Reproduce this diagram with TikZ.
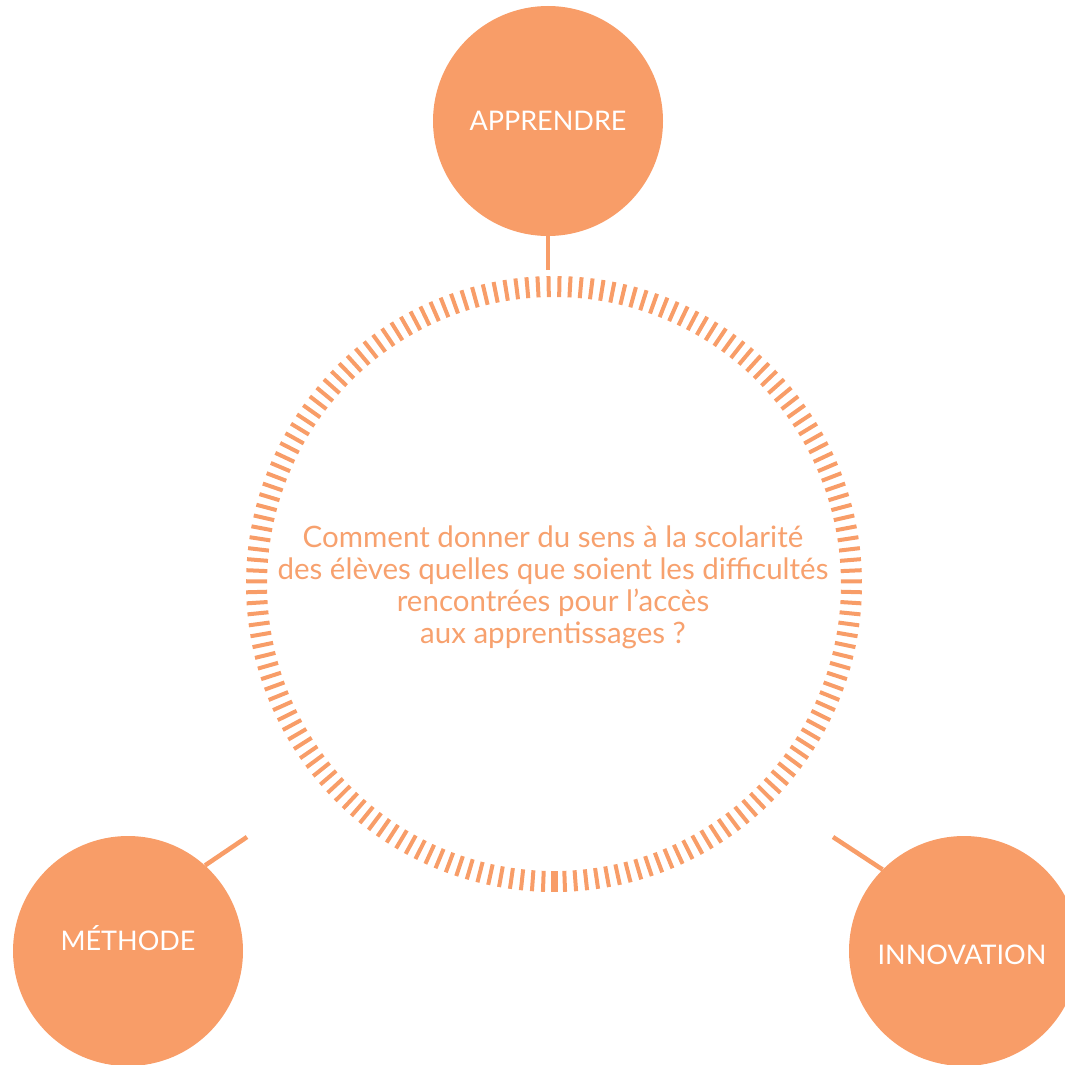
\documentclass[tikz,border=0pt]{standalone}
\usepackage{fontspec}
\setmainfont{Lato}
\usetikzlibrary{calc}
\definecolor{orangefill}{HTML}{F89D68}
\definecolor{orangetext}{HTML}{F7A16E}
\begin{document}
\begin{tikzpicture}[x=1pt,y=-1pt,
  bubble/.style={circle,fill=orangefill,draw=none,minimum size=230pt,inner sep=0pt,
    text=white,font=\fontsize{27}{32}\selectfont},
  label/.style={text=white,font=\fontsize{27}{32}\selectfont},
  connector/.style={draw=orangefill,line width=4.5pt},
  tick/.style={draw=orangefill,line width=4pt}]
\useasboundingbox (0,0) rectangle (1065,1065);
% ring of ticks
\coordinate (ringc) at (554,584);
\foreach \i in {0,...,174}{
  \pgfmathsetmacro{\ang}{90+\i*2.0571428}
  \draw[tick] ($(ringc)+(\ang:287)$) -- ($(ringc)+(\ang:308)$);
}
\draw[tick,line width=7pt] ($(ringc)+(90:287)$) -- ($(ringc)+(90:308)$);
% connectors
\coordinate (a1) at (548,270);
\coordinate (m1) at (247,837);
\coordinate (i1) at (833,837);
\node[bubble] (apprendre) at (548,121) {APPRENDRE};
\node[bubble] (methode) at (128,951) {};
\node[bubble] (innovation) at (964,951) {};
\node[label] (methodelabel) at (128,938) {MÉTHODE};
\node[label] (innovationlabel) at (962,955) {INNOVATION};
\draw[connector] (a1) -- (apprendre.south);
\draw[connector] (m1) -- (methode.48.5);
\draw[connector] (i1) -- (innovation.135);
% central question
\node[text=orangetext,align=center,font=\fontsize{29.5}{32}\selectfont] (question) at (553,587)
  {Comment donner du sens à la scolarité\\des élèves quelles que soient les difficultés\\rencontrées pour l’accès\\aux apprentissages ?};
\end{tikzpicture}
\end{document}
